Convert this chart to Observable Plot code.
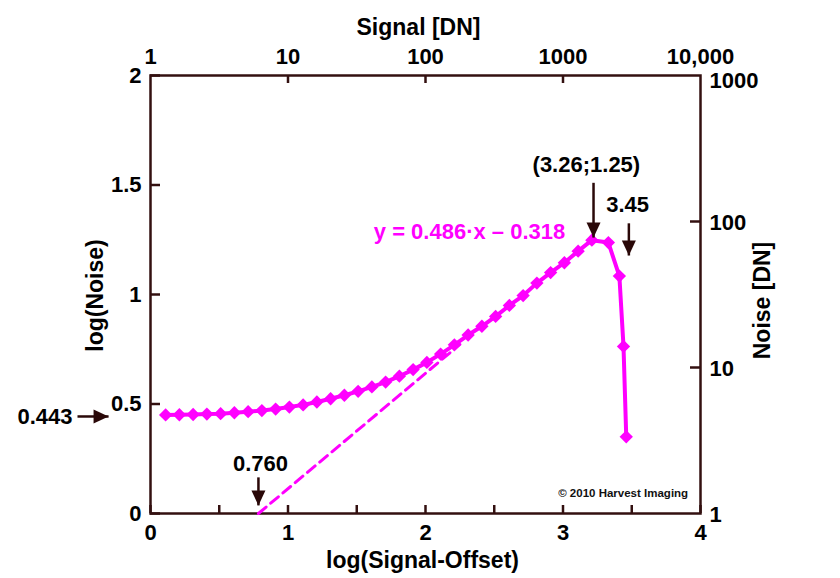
<!DOCTYPE html>
<html><head><meta charset="utf-8">
<script src="https://cdn.jsdelivr.net/npm/d3@7"></script>
<script src="https://cdn.jsdelivr.net/npm/@observablehq/plot@0.6"></script>
<style>body{margin:0;background:#fff}</style>
</head><body><div id="chart"></div>
<script>
// ---- data ----
const logSignal = [0.11,0.21,0.31,0.41,0.51,0.61,0.71,0.81,0.91,1.01,1.11,1.21,1.31,1.41,1.51,1.61,1.71,1.81,1.91,2.01,2.11,2.21,2.31,2.41,2.51,2.61,2.71,2.81,2.91,3.01,3.11,3.21,3.33,3.41,3.44,3.46];
const logNoise  = [0.450,0.451,0.452,0.454,0.456,0.460,0.465,0.470,0.477,0.486,0.496,0.509,0.524,0.540,0.558,0.578,0.600,0.627,0.657,0.690,0.728,0.770,0.815,0.855,0.900,0.950,0.995,1.052,1.100,1.145,1.198,1.248,1.237,1.084,0.763,0.350];
const fitX = [0.785, 2.25];
const fitY = [0, 0.772];

const xTickValues = [0,0.5,1,1.5,2,2.5,3,3.5,4];
const xLabelValues = [0,1,2,3,4];
const xLabels = ["0","1","2","3","4"];
const yTickValues = [0,0.5,1,1.5,2];
const yLabels = ["0","0.5","1","1.5","2"];
const topSignal = [1,10,100,1000,10000];
const topLabels = ["1","10","100","1000","10,000"];
const topTickSignal = [10,100,1000];
const rightNoise = [1,10,100,1000];
const rightLabels = ["1","10","100","1000"];
const rightTickNoise = [10,100];

const arrowTail = [[-0.531,0.443],[0.785,0.165],[3.222,1.51],[3.479,1.325]];
const arrowTip  = [[-0.305,0.443],[0.785,0.037],[3.222,1.26],[3.479,1.178]];
const arrowDir  = ["right","down","down","down"];
const noteText = ["0.443","0.760","(3.26;1.25)","3.45"];
const noteX = [-0.767, 0.80, 3.17, 3.47];
const noteY = [0.443, 0.228, 1.59, 1.41];
const eqText = "y = 0.486·x – 0.318";
const eqPos = [2.32, 1.284];
const credit = "© 2010 Harvest Imaging";
const creditPos = [3.91, 0.093];

// ---- build ----
const MAG = "#ff00ff", AX = "#331010", INK = "#000";
const curve = logSignal.map((x,i)=>({x, y: logNoise[i]}));
const fit = fitX.map((x,i)=>({x, y: fitY[i]}));
const arrows = arrowTail.map((t,i)=>({x1:t[0],y1:t[1],x2:arrowTip[i][0],y2:arrowTip[i][1],dir:arrowDir[i]}));
const notes = noteText.map((t,i)=>({t, x: noteX[i], y: noteY[i]}));
const rightRows = rightNoise.map((n,i)=>({n, t: rightLabels[i]}));
const nY = n => Math.log10(n) * 2 / 3; // right axis: 3 decades over the frame
const triDown = {draw(c){c.moveTo(0,0);c.lineTo(-7,-15);c.lineTo(7,-15);c.closePath();}};
const triRight = {draw(c){c.moveTo(0,0);c.lineTo(-15,-7);c.lineTo(-15,7);c.closePath();}};
const F = {fontSize: 22, fontWeight: "bold", fill: INK};
const T = {fontSize: 23, fontWeight: "bold", fill: INK, textAnchor: "middle", lineAnchor: "middle"};

const chart = Plot.plot({
  width: 840, height: 578,
  marginLeft: 150, marginRight: 140, marginTop: 75, marginBottom: 65,
  x: {domain: [0,4], axis: null},
  y: {domain: [0,2], axis: null},
  style: {fontFamily: "'Liberation Sans', Arial, sans-serif", background: "#fff", overflow: "visible"},
  marks: [
    Plot.frame({stroke: AX, strokeWidth: 2.5}),
    Plot.tickX(xTickValues, {x: d=>d, stroke: AX, strokeWidth: 2.5, insetTop: 430}),
    Plot.tickY(yTickValues, {y: d=>d, stroke: AX, strokeWidth: 2.5, insetRight: 540}),
    Plot.tickX(topTickSignal, {x: d=>Math.log10(d), stroke: AX, strokeWidth: 2.5, insetBottom: 430}),
    Plot.tickY(rightTickNoise, {y: d=>nY(d), stroke: AX, strokeWidth: 2.5, insetLeft: 540}),
    Plot.text(xLabelValues, {x: d=>d, y: 0, text: (d,i)=>xLabels[i], dy: 19, ...F}),
    Plot.text(yTickValues, {x: 0, y: d=>d, text: (d,i)=>yLabels[i], dx: -9, textAnchor: "end", ...F}),
    Plot.text(topSignal, {x: d=>Math.log10(d), y: 2, text: (d,i)=>topLabels[i], dy: -19, ...F}),
    Plot.text(rightRows.filter(r=>r.n<1000), {x: 4, y: d=>nY(d.n), text: "t", dx: 9, dy: 1, textAnchor: "start", ...F}),
    Plot.text(rightRows.filter(r=>r.n>=1000), {x: 4, y: d=>nY(d.n), text: "t", dx: 9, dy: 5, textAnchor: "start", ...F}),
    Plot.text(["Signal [DN]"], {frameAnchor: "top", text: d=>d, dx: -7, dy: -48, ...T}),
    Plot.text(["log(Signal-Offset)"], {frameAnchor: "bottom", text: d=>d, dx: -3, dy: 47, ...T}),
    Plot.text(["log(Noise)"], {frameAnchor: "left", text: d=>d, dx: -55, dy: 1, rotate: -90, ...T}),
    Plot.text(["Noise [DN]"], {frameAnchor: "right", text: d=>d, dx: 62, dy: 6, rotate: -90, ...T}),
    Plot.line(fit, {x: "x", y: "y", stroke: MAG, strokeWidth: 3, strokeDasharray: "10,6"}),
    Plot.line(curve, {x: "x", y: "y", stroke: MAG, strokeWidth: 4}),
    Plot.dot(curve, {x: "x", y: "y", symbol: "diamond2", r: 6, fill: MAG, stroke: "none"}),
    Plot.link(arrows, {x1: "x1", y1: "y1", x2: "x2", y2: "y2", stroke: "#2a0808", strokeWidth: 2.5}),
    Plot.dot(arrows.filter(a=>a.dir==="down"), {x: "x2", y: "y2", symbol: triDown, fill: "#2a0808", stroke: "none"}),
    Plot.dot(arrows.filter(a=>a.dir==="right"), {x: "x2", y: "y2", symbol: triRight, fill: "#2a0808", stroke: "none"}),
    Plot.text(notes, {x: "x", y: "y", text: "t", ...F}),
    Plot.text([eqText], {x: eqPos[0], y: eqPos[1], text: d=>d, ...F, fill: MAG}),
    Plot.text([credit], {x: creditPos[0], y: creditPos[1], text: d=>d, fontSize: 11.5, fontWeight: "bold", fill: "#111", textAnchor: "end"})
  ]
});
document.getElementById("chart").append(chart);
</script>
</body></html>
